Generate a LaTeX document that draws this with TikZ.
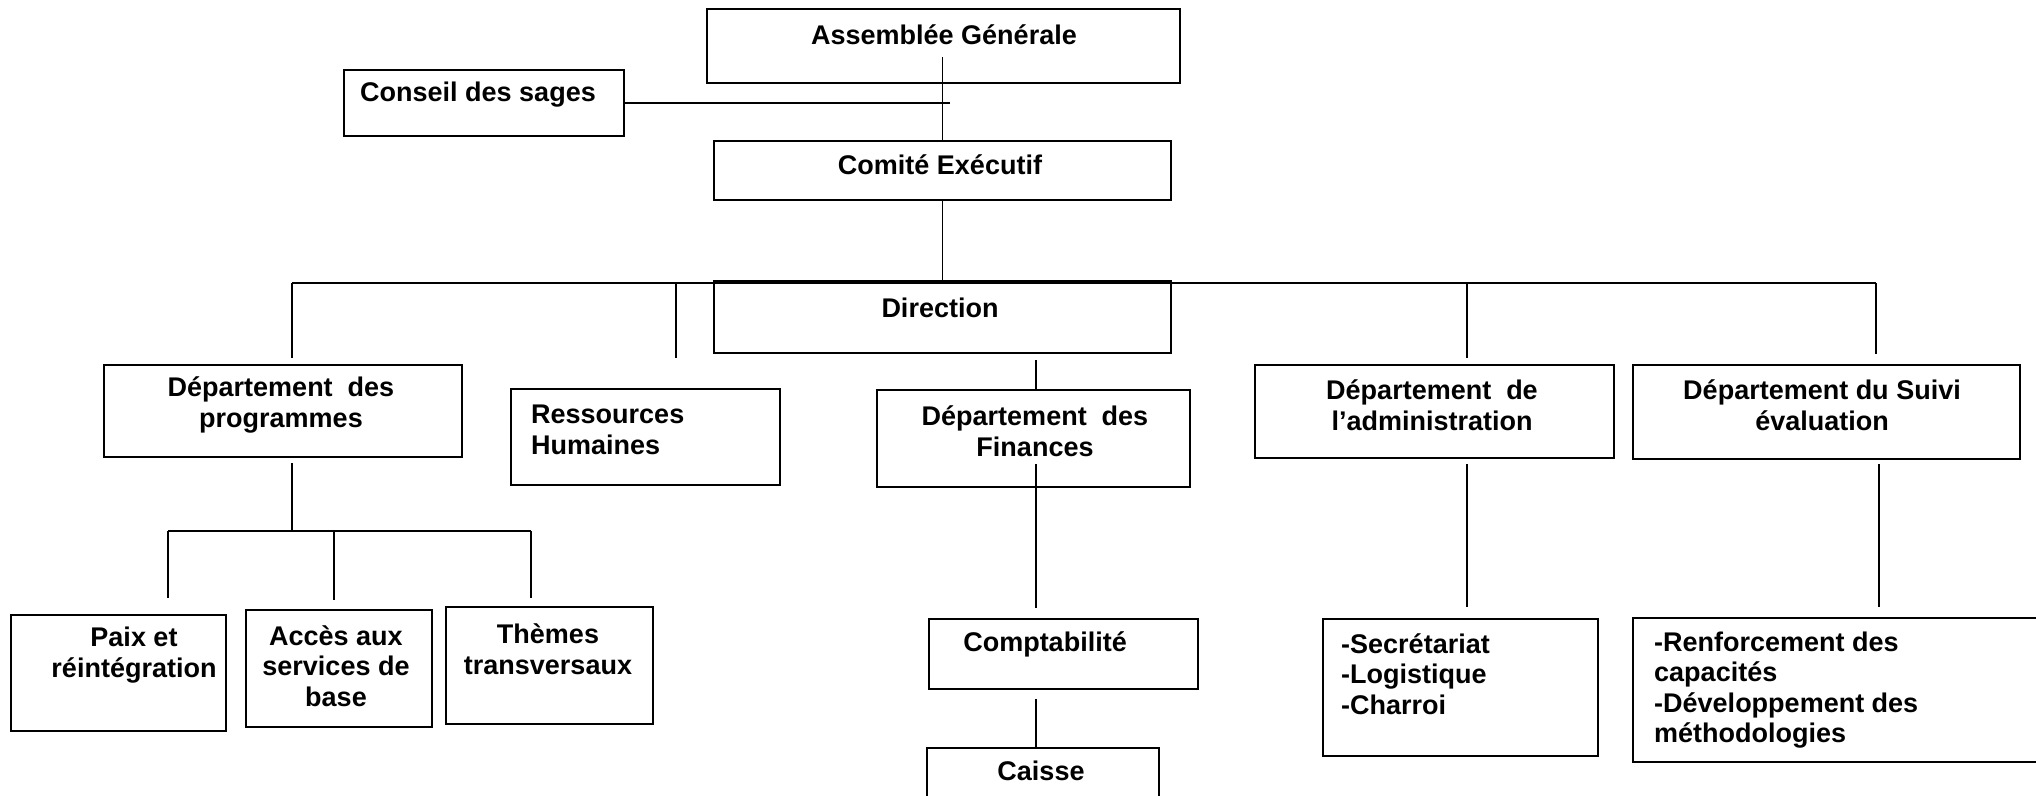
\documentclass[tikz,border=0pt]{standalone}
\usepackage{fontspec}
\setmainfont{Liberation Sans}
\begin{document}
\begin{tikzpicture}[x=1pt,y=-1pt,
  box/.style={draw, line width=1.8pt, inner sep=0pt, anchor=north west},
  lbl/.style={font=\bfseries\fontsize{27}{30.5}\selectfont, align=center, inner sep=0pt},
  lbll/.style={lbl, align=left, anchor=west},
  conn/.style={line width=1.3pt}]
\useasboundingbox (0,0) rectangle (2036,795);
% boxes
\node[box, minimum width=473pt, minimum height=74pt] (ag) at (706,8) {};
\node[box, minimum width=280pt, minimum height=66pt] (cs) at (343,69) {};
\node[box, minimum width=457pt, minimum height=59pt] (ce) at (713,140) {};
\node[box, minimum width=457pt, minimum height=72pt] (dir) at (713,280) {};
\node[box, minimum width=358pt, minimum height=92pt] (dp) at (103,364) {};
\node[box, minimum width=269pt, minimum height=96pt] (rh) at (510,388) {};
\node[box, minimum width=313pt, minimum height=97pt] (df) at (876,389) {};
\node[box, minimum width=359pt, minimum height=93pt] (da) at (1254,364) {};
\node[box, minimum width=387pt, minimum height=94pt] (ds) at (1632,364) {};
\node[box, minimum width=215pt, minimum height=116pt] (px) at (10,614) {};
\node[box, minimum width=186pt, minimum height=117pt] (ac) at (245,609) {};
\node[box, minimum width=207pt, minimum height=117pt] (th) at (445,606) {};
\node[box, minimum width=269pt, minimum height=70pt] (co) at (928,618) {};
\node[box, minimum width=232pt, minimum height=73pt] (ca) at (926,747) {};
\node[box, minimum width=275pt, minimum height=137pt] (se) at (1322,618) {};
\node[box, minimum width=418pt, minimum height=144pt] (rf) at (1632,617) {};
% labels
\node[lbl] (tag) at (944,35) {Assemblée Générale};
\node[lbl] (tcs) at (478,95) {Conseil des sages};
\node[lbl] (tce) at (940,165) {Comité Exécutif};
\node[lbl] (tdir) at (940,308) {Direction};
\node[lbl] (tdp) at (281,405) {Département\ \ des\\programmes};
\node[lbll] (trh) at (531,430) {Ressources\\Humaines};
\node[lbl] (tdf) at (1035,431) {Département\ \ des\\Finances};
\node[lbl] (tda) at (1432,405) {Département\ \ de\\l’administration};
\node[lbl] (tds) at (1822,405) {Département du Suivi\\évaluation};
\node[lbl] (tpx) at (134,655) {Paix et\\réintégration};
\node[lbl] (tac) at (336,666) {Accès aux\\services de\\base};
\node[lbl] (tth) at (548,649) {Thèmes\\transversaux};
\node[lbl] (tco) at (1045,644) {Comptabilité};
\node[lbl] (tca) at (1041,771) {Caisse};
\node[lbll] (tse) at (1341,674) {-Secrétariat\\-Logistique\\-Charroi};
\node[lbll] (trf) at (1654,690) {-Renforcement des\\capacités\\-Développement des\\méthodologies};
% junction coordinates
\coordinate (agj) at (941,57);
\coordinate (csj) at (950,104);
\coordinate (busL) at (292,283);
\coordinate (busR) at (1876,283);
\coordinate (rhj) at (676,283);
\coordinate (daj) at (1467,283);
\coordinate (dirj) at (1036,360);
\coordinate (dfj) at (1036,464);
\coordinate (daj2) at (1467,464);
\coordinate (dsj2) at (1879,464);
\coordinate (coj) at (1036,699);
\coordinate (pbus) at (292,531);
\coordinate (pbL) at (168,531);
\coordinate (pbM) at (334,531);
\coordinate (pbR) at (531,531);
% connectors
\draw[conn] (ce.north |- agj) -- (ce.north);
\draw[conn] (cs.east) -- (cs.east -| csj);
\draw[conn] (ce.south) -- (ce.south |- busL);
\draw[conn] (busL) -- (busR);
\draw[conn] (busL) -- ++(0,75);
\draw[conn] (rhj) -- ++(0,75);
\draw[conn] (daj) -- ++(0,75);
\draw[conn] (busR) -- ++(0,71);
\draw[conn] (dirj) -- (dirj |- df.north);
\draw[conn] (dfj) -- ++(0,144);
\draw[conn] (coj) -- (coj |- ca.north);
\draw[conn] (daj2) -- ++(0,143);
\draw[conn] (dsj2) -- ++(0,143);
\draw[conn] ([yshift=-5pt]pbus |- dp.south) -- (pbus);
\draw[conn] (pbL) -- (pbR);
\draw[conn] (pbL) -- ++(0,67);
\draw[conn] (pbM) -- ++(0,69);
\draw[conn] (pbR) -- ++(0,67);
\end{tikzpicture}
\end{document}
